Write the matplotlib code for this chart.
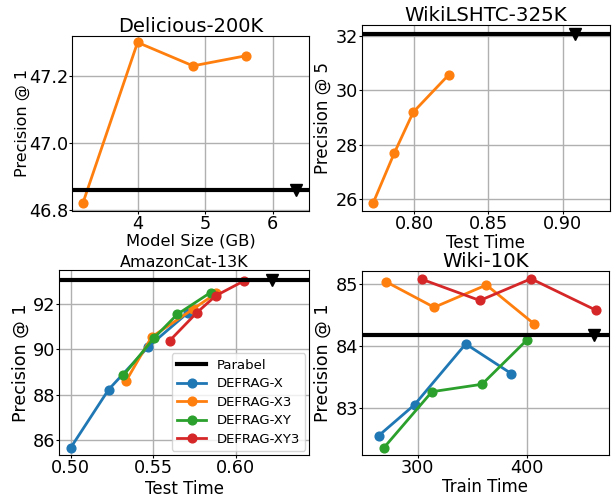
import matplotlib
matplotlib.use("Agg")
import matplotlib.pyplot as plt

# ---------------- data ----------------
series_names = ["DEFRAG-X", "DEFRAG-X3", "DEFRAG-XY", "DEFRAG-XY3"]
series_colors = ["#1f77b4", "#ff7f0e", "#2ca02c", "#d62728"]

# Delicious-200K (model size vs P@1), only DEFRAG-X3
del_x3_size = [3.19, 4.00, 4.82, 5.60]
del_x3_p1 = [46.82, 47.30, 47.23, 47.26]
del_parabel_p1 = 46.86
del_parabel_size = 6.35

# WikiLSHTC-325K (test time vs P@5), only DEFRAG-X3
wl_x3_time = [0.7727, 0.7867, 0.7995, 0.8233]
wl_x3_p5 = [25.88, 27.69, 29.20, 30.57]
wl_parabel_p5 = 32.07
wl_parabel_time = 0.908

# AmazonCat-13K (test time vs P@1)
am_x_time = [0.500, 0.523, 0.547, 0.571]
am_x_p1 = [85.66, 88.22, 90.10, 91.60]
am_x3_time = [0.5335, 0.549, 0.574, 0.588]
am_x3_p1 = [88.59, 90.53, 91.75, 92.45]
am_xy_time = [0.532, 0.5505, 0.5646, 0.5848]
am_xy_p1 = [88.85, 90.49, 91.53, 92.49]
am_xy3_time = [0.560, 0.5764, 0.588, 0.605]
am_xy3_p1 = [90.37, 91.60, 92.35, 93.00]
am_parabel_p1 = 93.04
am_parabel_time = 0.622

# Wiki-10K (train time vs P@1)
wk_x_time = [264, 297, 344, 386]
wk_x_p1 = [82.56, 83.06, 84.04, 83.56]
wk_x3_time = [271, 315, 363, 407]
wk_x3_p1 = [85.04, 84.63, 84.99, 84.36]
wk_xy_time = [269, 313, 359, 400]
wk_xy_p1 = [82.37, 83.27, 83.39, 84.10]
wk_xy3_time = [304, 357, 404, 464]
wk_xy3_p1 = [85.08, 84.74, 85.09, 84.58]
wk_parabel_p1 = 84.19
wk_parabel_time = 462

# ticks
del_xticks = [4, 5, 6]
del_yticks = [46.8, 47.0, 47.2]
wl_xticks = [0.80, 0.85, 0.90]
wl_yticks = [26, 28, 30, 32]
am_xticks = [0.50, 0.55, 0.60]
am_yticks = [86, 88, 90, 92]
wk_xticks = [300, 400]
wk_yticks = [83, 84, 85]

# ---------------- drawing ----------------
FS_TICK = 12.7
LW = 2.0
MS = 6.3

fig = plt.figure(figsize=(6.16, 5.0), dpi=100)

def style(ax, title, xlabel, ylabel, xticks, yticks, xfmt, yfmt,
          tsize, tpad, xl_y, yl_x, xl_fs, yl_fs):
    ax.set_title(title, fontsize=tsize, pad=tpad)
    ax.set_xlabel(xlabel, fontsize=xl_fs)
    ax.set_ylabel(ylabel, fontsize=yl_fs)
    ax.xaxis.set_label_coords(0.5, xl_y)
    ax.yaxis.set_label_coords(yl_x, 0.5)
    ax.set_xticks(xticks)
    ax.set_yticks(yticks)
    ax.set_xticklabels([xfmt.format(v) for v in xticks])
    ax.set_yticklabels([yfmt.format(v) for v in yticks])
    ax.tick_params(labelsize=FS_TICK, pad=0.4, length=2.2)
    ax.grid(True, color="#b0b0b0", linewidth=1.0)
    ax.set_axisbelow(True)

def parabel(ax, y, x):
    ax.axhline(y, color="black", linewidth=3.0, label="Parabel", zorder=3)
    ax.plot([x], [y], marker="v", color="black", markersize=8, linestyle="none", zorder=4)

# Panel 1: Delicious-200K
ax1 = fig.add_axes([0.1169, 0.578, 0.502 - 0.1169, 0.9286 - 0.578])
parabel(ax1, del_parabel_p1, del_parabel_size)
ax1.plot(del_x3_size, del_x3_p1, marker="o", color=series_colors[1], lw=LW, ms=MS)
ax1.set_xlim(3.03, 6.54)
ax1.set_ylim(46.797, 47.32)
style(ax1, "Delicious-200K", "Model Size (GB)", "Precision @ 1",
      del_xticks, del_yticks, "{:d}", "{:.1f}",
      tsize=14, tpad=2.4, xl_y=-0.130, yl_x=-0.177, xl_fs=11.8, yl_fs=11.5)

# Panel 2: WikiLSHTC-325K
ax2 = fig.add_axes([0.5872, 0.578, 0.990 - 0.5872, 0.95 - 0.578])
parabel(ax2, wl_parabel_p5, wl_parabel_time)
ax2.plot(wl_x3_time, wl_x3_p5, marker="o", color=series_colors[1], lw=LW, ms=MS)
ax2.set_xlim(0.7649, 0.9315)
ax2.set_ylim(25.57, 32.40)
style(ax2, "WikiLSHTC-325K", "Test Time", "Precision @ 5",
      wl_xticks, wl_yticks, "{:.2f}", "{:d}",
      tsize=14.2, tpad=3.0, xl_y=-0.126, yl_x=-0.12, xl_fs=12, yl_fs=12.0)

# Panel 3: AmazonCat-13K
ax3 = fig.add_axes([0.0963, 0.09, 0.502 - 0.0963, 0.46 - 0.09])
parabel(ax3, am_parabel_p1, am_parabel_time)
am_data = [(am_x_time, am_x_p1), (am_x3_time, am_x3_p1),
           (am_xy_time, am_xy_p1), (am_xy3_time, am_xy3_p1)]
for (xs, ys), name, c in zip(am_data, series_names, series_colors):
    ax3.plot(xs, ys, marker="o", color=c, lw=LW, ms=MS, label=name)
ax3.set_xlim(0.4931, 0.6446)
ax3.set_ylim(85.34, 93.48)
style(ax3, "AmazonCat-13K", "Test Time", "Precision @ 1",
      am_xticks, am_yticks, "{:.2f}", "{:d}",
      tsize=11.5, tpad=2.4, xl_y=-0.136, yl_x=-0.117, xl_fs=12, yl_fs=12.6)
ax3.legend(loc="lower right", fontsize=9.5, borderaxespad=0.3,
           handlelength=2.2, labelspacing=0.42, framealpha=0.8)

# Panel 4: Wiki-10K
ax4 = fig.add_axes([0.5872, 0.09, 0.989 - 0.5872, 0.4586 - 0.09])
parabel(ax4, wk_parabel_p1, wk_parabel_time)
wk_data = [(wk_x_time, wk_x_p1), (wk_x3_time, wk_x3_p1),
           (wk_xy_time, wk_xy_p1), (wk_xy3_time, wk_xy3_p1)]
for (xs, ys), name, c in zip(wk_data, series_names, series_colors):
    ax4.plot(xs, ys, marker="o", color=c, lw=LW, ms=MS, label=name)
ax4.set_xlim(248.5, 475.8)
ax4.set_ylim(82.25, 85.22)
style(ax4, "Wiki-10K", "Train Time", "Precision @ 1",
      wk_xticks, wk_yticks, "{:d}", "{:d}",
      tsize=14.2, tpad=1.2, xl_y=-0.127, yl_x=-0.12, xl_fs=12, yl_fs=12.6)

fig.savefig("out.png", dpi=100)
